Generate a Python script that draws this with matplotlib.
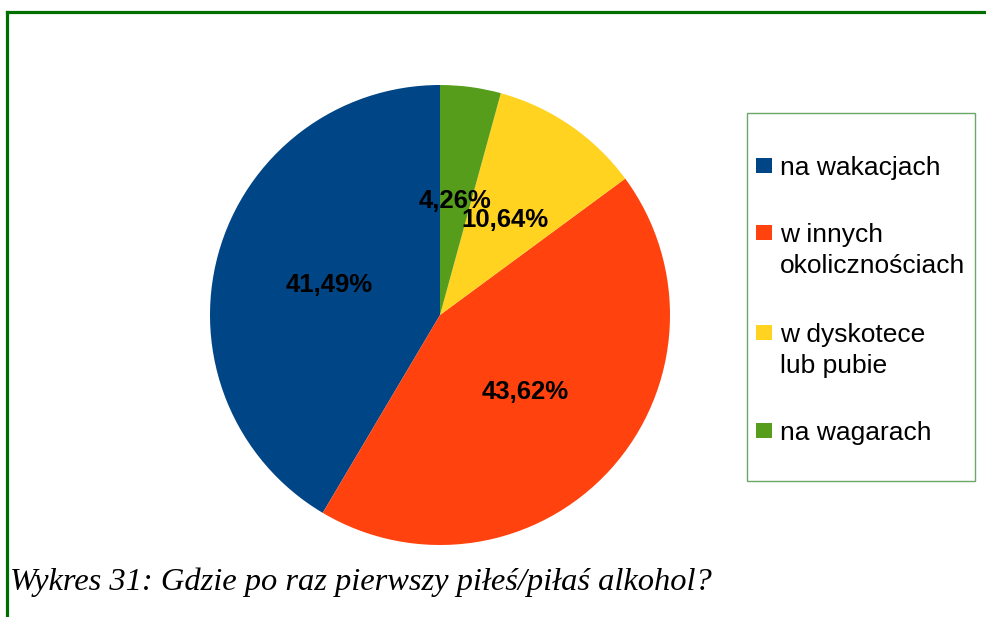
import matplotlib.pyplot as plt
from matplotlib.patches import Rectangle
from matplotlib.lines import Line2D

labels = ["na wakacjach", "w innych\nokolicznościach", "w dyskotece\nlub pubie", "na wagarach"]
values = [41.49, 43.62, 10.64, 4.26]
colors = ["#004586", "#ff420e", "#ffd320", "#579d1c"]
title = "Wykres 31: Gdzie po raz pierwszy piłeś/piłaś alkohol?"

W, H = 987, 617
fig = plt.figure(figsize=(W / 100, H / 100), dpi=100)


def fx(px):
    return px / W


def fy(py):
    return 1 - py / H


# pie: centre (440, 315), radius 230 px
cx, cy, r = 440, 315, 230
ax = fig.add_axes([fx(cx - r), fy(cy + r), 2 * r / W, 2 * r / H])
ax.pie(values, colors=colors, startangle=90, counterclock=True,
       autopct=lambda p: f"{p:.2f}%".replace(".", ","), pctdistance=0.5,
       textprops=dict(fontsize=18.5, fontweight="bold", family="Liberation Sans", color="black"),
       wedgeprops=dict(linewidth=0))
ax.set_xlim(-1, 1)
ax.set_ylim(-1, 1)
ax.axis("off")

# frame around chart
frame = "#006f00"
fig.add_artist(Line2D([fx(6.5), 1], [fy(11.5), fy(11.5)], color=frame, lw=2.3))
fig.add_artist(Line2D([fx(6.5), fx(6.5)], [fy(11.5), 0], color=frame, lw=2.3))

# legend box
fig.add_artist(Rectangle((fx(747), fy(481)), fx(975) - fx(747), fy(113) - fy(481),
                         transform=fig.transFigure, fill=False, edgecolor="#6aa86a", lw=1))
baselines = [175, 242, 342, 440]
line_h = 31
for lab, col, base in zip(labels, colors, baselines):
    fig.add_artist(Rectangle((fx(756), fy(base - 2)), fx(772) - fx(756), 15 / H,
                             transform=fig.transFigure, color=col, lw=0))
    for i, line in enumerate(lab.split("\n")):
        fig.text(fx(780), fy(base + i * line_h), line, fontsize=19,
                 family="Liberation Sans", va="baseline", ha="left")

fig.text(fx(10), fy(590), title, fontsize=23.4, family="Liberation Serif",
         style="italic", va="baseline", ha="left")

fig.savefig("out.png", dpi=100, facecolor="white")
